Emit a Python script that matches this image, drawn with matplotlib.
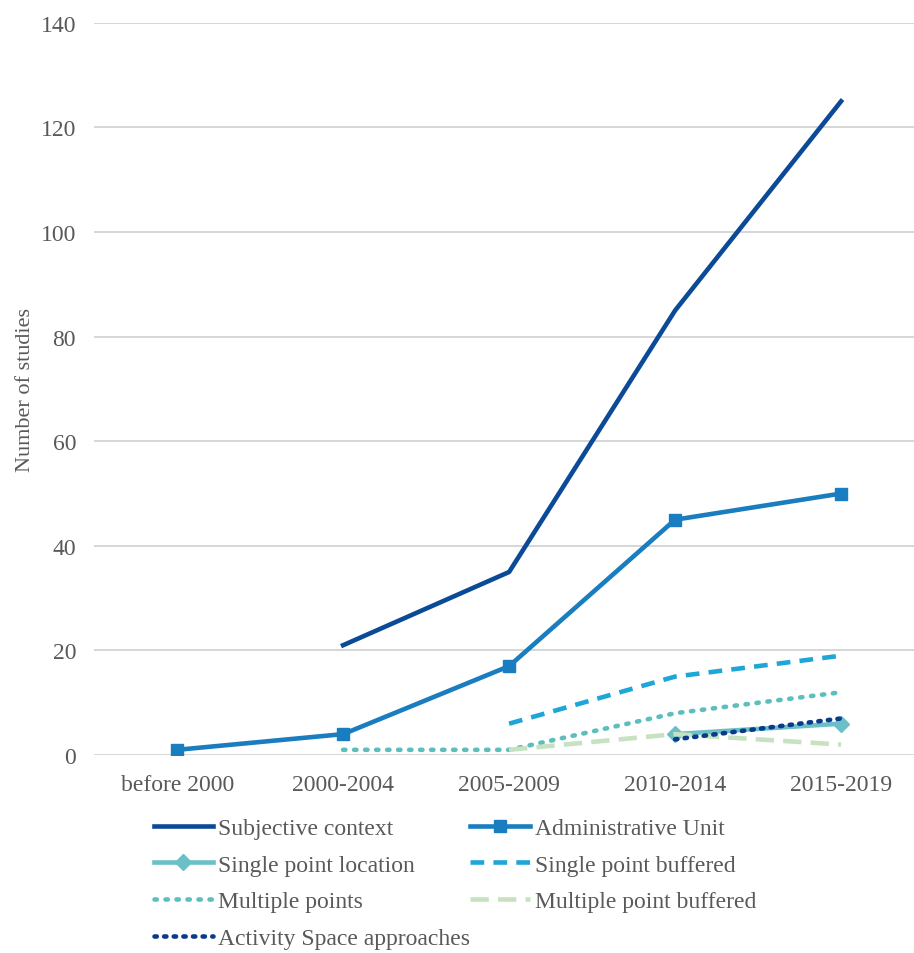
"""Number of studies by neighbourhood definition and period."""

import numpy as np
import matplotlib.pyplot as plt

###################################################################################################
###################################################################################################

periods = ['before 2000', '2000-2004', '2005-2009', '2010-2014', '2015-2019']
nan = np.nan

subjective = [nan, 21, 35, 85, 125]
administrative = [1, 4, 17, 45, 50]
single_point = [nan, nan, nan, 4, 6]
single_buffered = [nan, nan, 6, 15, 19]
multiple_points = [nan, 1, 1, 8, 12]
multiple_buffered = [nan, nan, 1, 4, 2]
activity_space = [nan, nan, nan, 3, 7]

plt.rcParams['font.family'] = ['Liberation Serif', 'DejaVu Serif']
text_col = '#595959'

fig = plt.figure(figsize=(9.14, 9.54), dpi=100)
ax = fig.add_axes([0.103, 0.2075, 0.908, 0.7675])

x = np.arange(len(periods))

h_subj, = ax.plot(x, subjective, color='#0b4a97', lw=3.3, label='Subjective context')
h_admin, = ax.plot(x, administrative, color='#1a7dbf', lw=3.3, marker='s', ms=9,
                   label='Administrative Unit')
h_spl, = ax.plot(x, single_point, color='#6ac0c6', lw=3.3, marker='D', ms=8,
                 label='Single point location')
h_spb, = ax.plot(x, single_buffered, color='#1ea6d9', lw=3.3, ls=(0, (3, 2)),
                 label='Single point buffered')
h_mp, = ax.plot(x, multiple_points, color='#5cbfbd', lw=3.3, ls=(0, (0.5, 1.9)),
                dash_capstyle='round', label='Multiple points')
h_mpb, = ax.plot(x, multiple_buffered, color='#c7e2c1', lw=3.3, ls=(0, (4, 2)),
                 label='Multiple point buffered')
h_as, = ax.plot(x, activity_space, color='#0a3a8c', lw=3.3, ls=(0, (0.5, 1.6)),
                dash_capstyle='round', label='Activity Space approaches')

ax.set_xlim(-0.5, 4.5)
ax.set_ylim(0, 140)
ax.set_yticks(range(0, 141, 20))
ax.set_xticks(x)
ax.set_xticklabels(periods)
ax.grid(axis='y', color='#d0d0d0', lw=1.2)
ax.set_axisbelow(True)
for s in ax.spines.values():
    s.set_visible(False)
ax.tick_params(length=0, labelsize=17, colors=text_col, pad=14)
ax.tick_params(axis='y', pad=13)
ax.set_ylabel('Number of studies', fontsize=16, color=text_col, labelpad=4)

handles = [h_subj, h_spl, h_mp, h_as, h_admin, h_spb, h_mpb]
fig.legend(handles=handles, labels=[h.get_label() for h in handles], ncol=2,
           loc='upper left', bbox_to_anchor=(0.168, 0.142), frameon=False,
           fontsize=17, labelcolor=text_col, handlelength=2.5, columnspacing=0.0,
           labelspacing=0.64, handletextpad=0.25, borderaxespad=0, borderpad=0)

fig.savefig('out.png', dpi=100)
